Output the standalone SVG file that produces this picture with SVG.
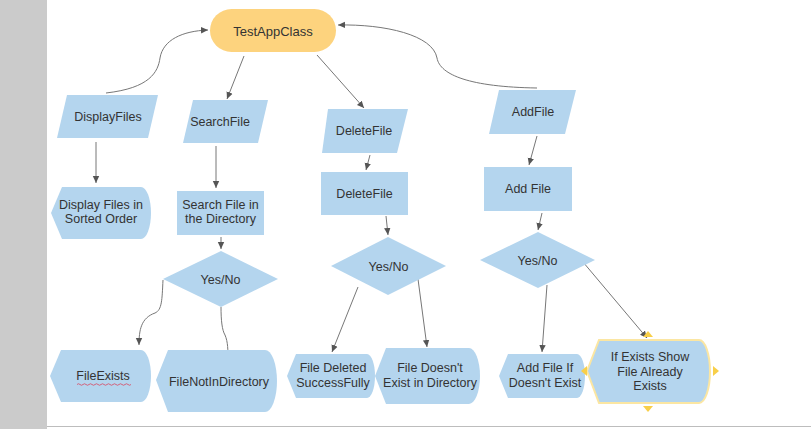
<svg xmlns="http://www.w3.org/2000/svg" width="811" height="429" viewBox="0 0 811 429">
<defs>
<marker id="ah" markerWidth="8" markerHeight="8" refX="7" refY="4" orient="auto" markerUnits="userSpaceOnUse">
<path d="M0,0.8 L7,4 L0,7.2 Z" fill="#555"/>
</marker>
<style>
.n{fill:#b4d5ee}
.t{font-family:"Liberation Sans",Arial,sans-serif;font-size:12.5px;fill:#333;text-anchor:middle}
.c{fill:none;stroke:#777;stroke-width:1;marker-end:url(#ah)}
.h{fill:#f8cf48}
</style>
</defs>
<rect x="0" y="0" width="811" height="429" fill="#fff"/>
<rect x="0" y="0" width="47" height="429" fill="#cbcbcb"/>
<line x1="47" y1="426.5" x2="811" y2="426.5" stroke="#bdbdbd" stroke-width="1"/>

<g id="connectors">
<path class="c" d="M106,93 C150,88 158,72 160,58 C163,40 182,31 208,30"/>
<path class="c" d="M244,56 L227,99"/>
<path class="c" d="M317,55 L364,108"/>
<path class="c" d="M537,88 C470,87 440,75 437,58 C433,35 385,24 338,25"/>
<path class="c" d="M96,142 L96,183"/>
<path class="c" d="M216,146 L216,188"/>
<path class="c" d="M221,237 L221,249"/>
<path class="c" d="M370,155 L366,170"/>
<path class="c" d="M386,216 L388,235"/>
<path class="c" d="M537,136 L529,165"/>
<path class="c" d="M542,213 L538,230"/>
<path class="c" d="M163,280 C162,300 162,310 155,313 C141,318 139,330 139,345"/>
<path class="c" d="M221,307 C221,320 222,330 225,335 C228,342 228,350 228,361"/>
<path class="c" d="M358,287 L332,352"/>
<path class="c" d="M418,279 L427,347"/>
<path class="c" d="M547,285 L542,352"/>
<path class="c" d="M583,262 L647,338"/>
</g>

<g id="testappclass">
<rect x="210" y="9" width="126" height="43" rx="21.5" fill="#fdd37e"/>
<text class="t" x="273" y="35.5" style="font-size:13px">TestAppClass</text>
</g>

<g id="displayfiles">
<polygon class="n" points="67,95 158,95 148,138 57,138"/>
<text class="t" x="108" y="120.5">DisplayFiles</text>
</g>
<g id="searchfile">
<polygon class="n" points="193,100 268,100 258,143 183,143"/>
<text class="t" x="220" y="125.5">SearchFile</text>
</g>
<g id="deletefile">
<polygon class="n" points="328,109 408,109 397,153 322,153"/>
<text class="t" x="364" y="135">DeleteFile</text>
</g>
<g id="addfile">
<polygon class="n" points="499,90 576,90 565,134 489,134"/>
<text class="t" x="533" y="115.5">AddFile</text>
</g>

<g id="displaysorted">
<path class="n" d="M51,213 L62,187 L141,187 A10,26 0 0 1 141,239 L62,239 Z"/>
<text class="t" x="101" y="209">Display Files in</text>
<text class="t" x="101" y="223">Sorted Order</text>
</g>
<g id="searchdir">
<rect class="n" x="177" y="191" width="87" height="44"/>
<text class="t" x="220.5" y="209">Search File in</text>
<text class="t" x="220.5" y="223">the Directory</text>
</g>
<g id="deletefilerect">
<rect class="n" x="321" y="172" width="87" height="43"/>
<text class="t" x="364.5" y="197.5">DeleteFile</text>
</g>
<g id="addfilerect">
<rect class="n" x="484" y="167" width="88" height="44"/>
<text class="t" x="528" y="192.5">Add File</text>
</g>

<g id="yesno1">
<polygon class="n" points="221,251 278,279 221,307 163,279"/>
<text class="t" x="220.5" y="283.5">Yes/No</text>
</g>
<g id="yesno2">
<polygon class="n" points="388,237 446,266 388,295 331,266"/>
<text class="t" x="388.5" y="270.5">Yes/No</text>
</g>
<g id="yesno3">
<polygon class="n" points="538,232 595,260 538,288 480,260"/>
<text class="t" x="537.5" y="264.5">Yes/No</text>
</g>

<g id="fileexists">
<path class="n" d="M50,376 L61,350 L141,350 A10,26 0 0 1 141,402 L61,402 Z"/>
<text class="t" x="103" y="380">FileExists</text>
<path d="M77,384.5 q1.5,-1.5 3,0 t3,0 t3,0 t3,0 t3,0 t3,0 t3,0 t3,0 t3,0 t3,0 t3,0 t3,0 t3,0 t3,0 t3,0 t3,0 t3,0 t3,0" fill="none" stroke="#d9455f" stroke-width="0.8"/>
</g>
<g id="filenotindirectory">
<path class="n" d="M156,380 L168,350 L265,350 A12,31 0 0 1 265,412 L168,412 Z"/>
<text class="t" x="219" y="385.5">FileNotInDirectory</text>
</g>
<g id="filedeleted">
<path class="n" d="M287,376 L296,354 L367,354 A8,22 0 0 1 367,398 L296,398 Z"/>
<text class="t" x="333" y="372">File Deleted</text>
<text class="t" x="333" y="387">SuccessFully</text>
</g>
<g id="filedoesntexist">
<path class="n" d="M375,376 L386,348 L469,348 A11,28 0 0 1 469,404 L386,404 Z"/>
<text class="t" x="430" y="372">File Doesn't</text>
<text class="t" x="430" y="387">Exist in Directory</text>
</g>
<g id="addfileif">
<path class="n" d="M499,376 L508,354 L577,354 A8,22 0 0 1 577,398 L508,398 Z"/>
<text class="t" x="545" y="372">Add File If</text>
<text class="t" x="545" y="387">Doesn't Exist</text>
</g>
<g id="ifexists">
<path class="n" d="M587,371 L599,340 L699,340 A11,31.5 0 0 1 699,403 L599,403 Z" stroke="#fbe6a2" stroke-width="2"/>
<text class="t" x="650" y="361">If Exists Show</text>
<text class="t" x="650" y="375.5">File Already</text>
<text class="t" x="650" y="390">Exists</text>
<polygon class="h" points="643,337 648,331 653,337"/>
<polygon class="h" points="643,406 648,412 653,406"/>
<polygon class="h" points="713,366 719,371 713,376"/>
<polygon class="h" points="587,366 581,371 587,376"/>
</g>
</svg>
